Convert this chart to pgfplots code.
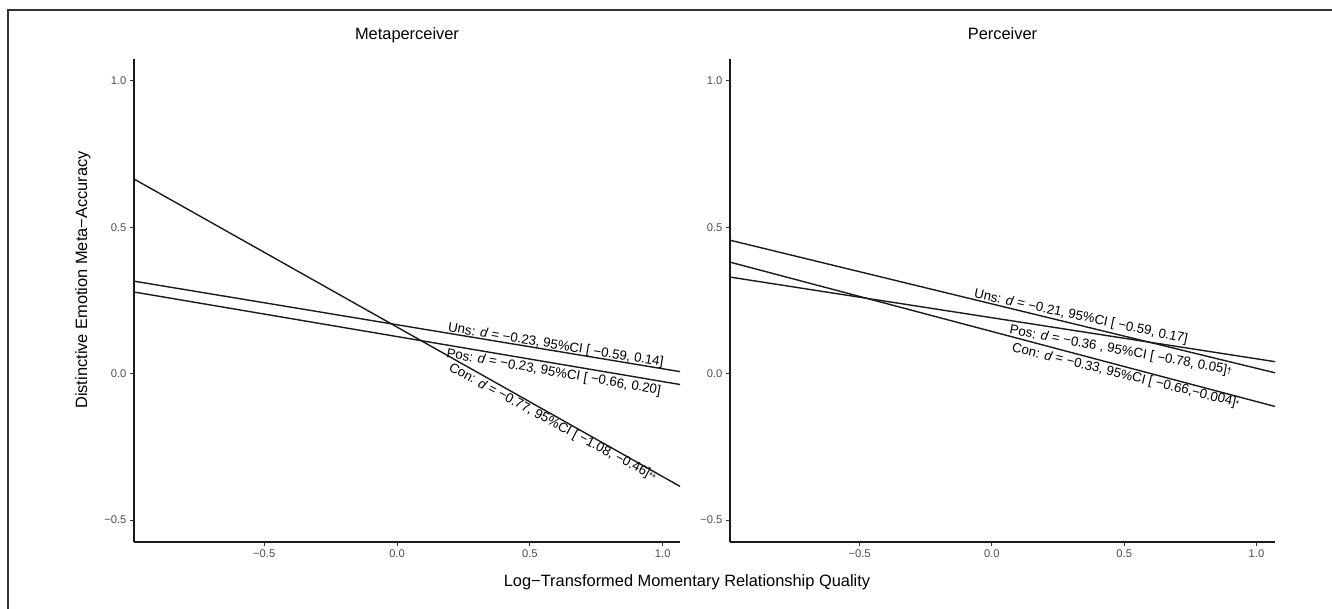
\documentclass[border=0pt]{standalone}
\usepackage{pgfplots}
\pgfplotsset{compat=1.18}
\usepackage{fontspec}
\setmainfont{Liberation Sans}
\definecolor{tickgray}{HTML}{4D4D4D}
\definecolor{tickmark}{HTML}{333333}
\definecolor{linec}{HTML}{1A1A1A}
\newcommand{\annot}{\fontsize{13.3}{15}\selectfont}
\pgfplotsset{
  panel/.style={
    scale only axis, height=483pt,
    ymin=-0.575, ymax=1.075, xmin=-0.99,
    axis x line*=bottom, axis y line*=left,
    axis line style={line width=2pt, linec, -},
    xtick={-0.5,0,0.5,1}, xticklabels={−0.5,0.0,0.5,1.0},
    ytick={-0.5,0,0.5,1}, yticklabels={−0.5,0.0,0.5,1.0},
    tick align=outside, major tick length=4pt,
    tick style={tickmark, line width=1pt},
    ticklabel style={font=\fontsize{11.2}{13}\selectfont, text=tickgray},
    title style={font=\fontsize{16.4}{19}\selectfont, at={(0.5,1)}, anchor=base, yshift=13pt},
    cycle list={{linec, line width=1.4pt, mark=none}},
    clip=false,
  }
}
\begin{document}
\begin{tikzpicture}
\useasboundingbox (0,0) rectangle (1332pt,609pt);
\draw[line width=1.5pt, black!80] (8pt,0pt) -- (8pt,599pt) -- (1332pt,599pt);

% Left panel: Metaperceiver
\begin{axis}[panel, width=546pt, xmax=1.065, at={(134pt,67pt)}, anchor=south west, title={Metaperceiver}]
\addplot[linec, line width=1.4pt] coordinates {(-0.99,0.316) (1.065,0.007)}; % Uns
\addplot[linec, line width=1.4pt] coordinates {(-0.99,0.279) (1.065,-0.037)}; % Pos
\addplot[linec, line width=1.4pt] coordinates {(-0.99,0.665) (1.065,-0.385)}; % Con
\node[rotate=-9.3, anchor=base west, font=\annot, inner sep=0pt] at (axis cs:0.19,0.145) {Uns: \textit{d} = −0.23, 95\%CI [ −0.59, 0.14]};
\node[rotate=-9.9, anchor=north west, font=\annot, inner sep=0pt] at (axis cs:0.19,0.089) {Pos: \textit{d} = −0.23, 95\%CI [ −0.66, 0.20]};
\node[rotate=-28.3, anchor=north west, font=\annot, inner sep=0pt] at (axis cs:0.209,0.041) {Con: \textit{d} = −0.77, 95\%CI [ −1.08, −0.46]{\fontsize{9}{9}\selectfont **}};
\end{axis}

% Right panel: Perceiver
\begin{axis}[panel, width=545pt, xmax=1.07, at={(730pt,67pt)}, anchor=south west, title={Perceiver}]
\addplot[linec, line width=1.4pt] coordinates {(-0.99,0.456) (1.07,0.003)}; % Uns
\addplot[linec, line width=1.4pt] coordinates {(-0.99,0.330) (1.07,0.041)}; % Pos
\addplot[linec, line width=1.4pt] coordinates {(-0.99,0.381) (1.07,-0.112)}; % Con
\node[rotate=-12.0, anchor=base west, font=\annot, inner sep=0pt] at (axis cs:-0.07,0.259) {Uns: \textit{d} = −0.21, 95\%CI [ −0.59, 0.17]};
\node[rotate=-10.4, anchor=north west, font=\annot, inner sep=0pt] at (axis cs:0.071,0.169) {Pos: \textit{d} = −0.36 , 95\%CI [ −0.78, 0.05]{\fontsize{9}{9}\selectfont †}};
\node[rotate=-13.8, anchor=north west, font=\annot, inner sep=0pt] at (axis cs:0.082,0.109) {Con: \textit{d} = −0.33, 95\%CI [ −0.66,−0.004]{\fontsize{9}{9}\selectfont *}};
\end{axis}

\node[rotate=90, anchor=base, font=\fontsize{16.4}{19}\selectfont] at (87pt,329pt) {Distinctive Emotion Meta−Accuracy};
\node[anchor=base, font=\fontsize{16.4}{19}\selectfont] at (687pt,22pt) {Log−Transformed Momentary Relationship Quality};
\end{tikzpicture}
\end{document}
